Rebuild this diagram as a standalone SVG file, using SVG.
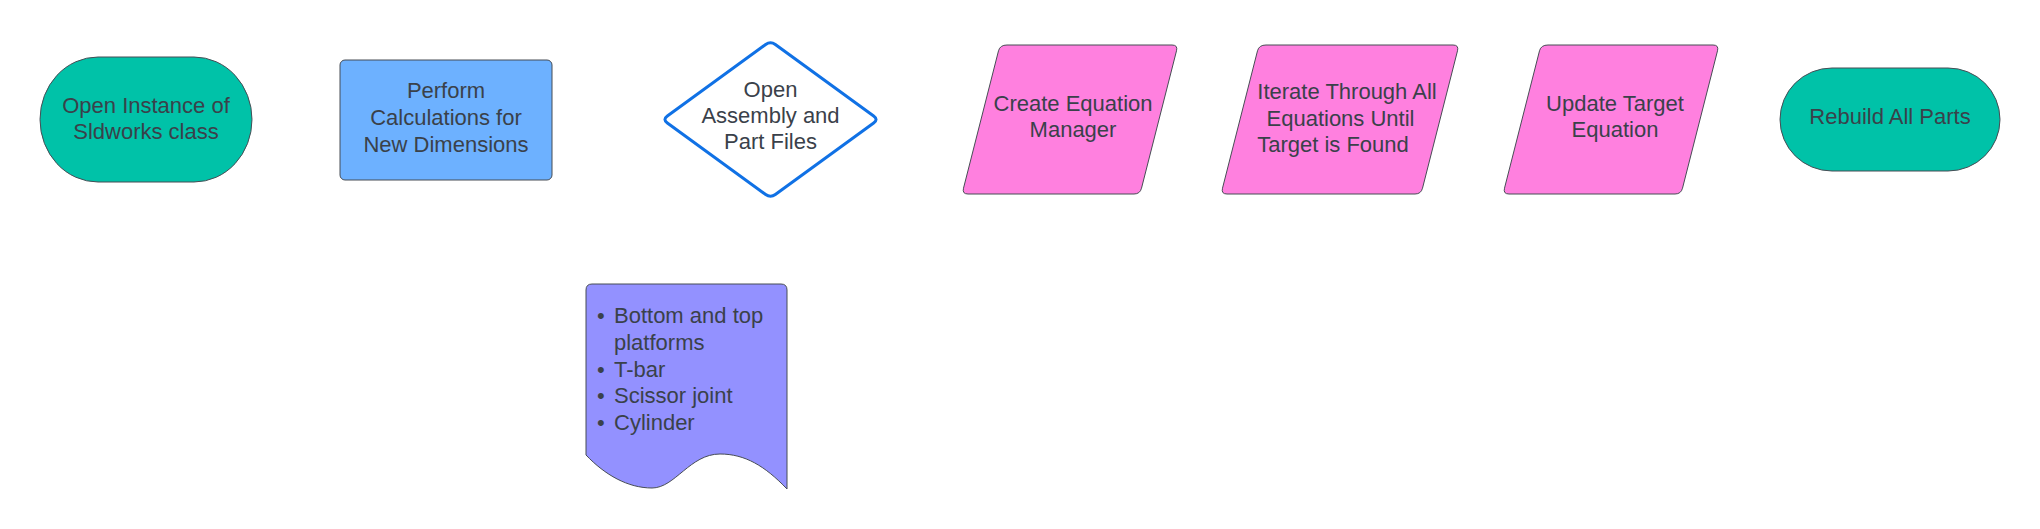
<svg xmlns="http://www.w3.org/2000/svg" width="2040" height="529" viewBox="0 0 2040 529">
<style>
.t{font-family:"Liberation Sans",Arial,sans-serif;font-size:22px;fill:#3a414a;text-anchor:middle}
.tl{font-family:"Liberation Sans",Arial,sans-serif;font-size:22px;fill:#3a414a}
.term{fill:#00c2a8;stroke:#474d55;stroke-width:1}
.proc{fill:#6db1ff;stroke:#474d55;stroke-width:1}
.io{fill:#ff80df;stroke:#474d55;stroke-width:1}
.doc{fill:#9391ff;stroke:#474d55;stroke-width:1}
.dec{fill:#ffffff;stroke:#1071e5;stroke-width:3;stroke-linejoin:round}
</style>
<rect width="2040" height="529" fill="#ffffff"/>
<g id="connectors"></g>
<g id="start">
<rect class="term" x="40" y="57" width="212" height="125" rx="58" ry="62.5"/>
<text class="t" x="146" y="112.5">Open Instance of</text>
<text class="t" x="146" y="139">Sldworks class</text>
</g>
<g id="calc">
<rect class="proc" x="340" y="60" width="212" height="120" rx="5"/>
<text class="t" x="446" y="98">Perform</text>
<text class="t" x="446" y="125">Calculations for</text>
<text class="t" x="446" y="152">New Dimensions</text>
</g>
<g id="open-files">
<path class="dec" d="M765.65,44.53 Q770.5,41 775.35,44.53 L873.65,115.97 Q878.5,119.5 873.65,123.03 L775.35,194.47 Q770.5,198 765.65,194.47 L667.35,123.03 Q662.5,119.5 667.35,115.97 Z"/>
<text class="t" x="770.5" y="96.5">Open</text>
<text class="t" x="770.5" y="123">Assembly and</text>
<text class="t" x="770.5" y="149">Part Files</text>
</g>
<g id="create-eq">
<path class="io" d="M1007,45 L1172,45 Q1178,45 1176.5,50.8 L1141.5,188.2 Q1140,194 1134,194 L968,194 Q962,194 963.5,188.2 L998.5,50.8 Q1000,45 1007,45 Z"/>
<text class="t" x="1073" y="110.5">Create Equation</text>
<text class="t" x="1073" y="137">Manager</text>
</g>
<g id="iterate">
<path class="io" d="M1266,45 L1453,45 Q1459,45 1457.5,50.8 L1422.5,188.2 Q1421,194 1415,194 L1227,194 Q1221,194 1222.5,188.2 L1257.5,50.8 Q1259,45 1266,45 Z"/>
<text class="t" x="1347" y="99">Iterate Through All</text>
<text class="t" x="1340.5" y="125.5">Equations Until</text>
<text class="t" x="1333" y="152">Target is Found</text>
</g>
<g id="update">
<path class="io" d="M1548,45 L1713,45 Q1719,45 1717.5,50.8 L1682.5,188.2 Q1681,194 1675,194 L1509,194 Q1503,194 1504.5,188.2 L1539.5,50.8 Q1541,45 1548,45 Z"/>
<text class="t" x="1615" y="110.5">Update Target</text>
<text class="t" x="1615" y="137">Equation</text>
</g>
<g id="rebuild">
<rect class="term" x="1780" y="68" width="220" height="103" rx="52" ry="51.5"/>
<text class="t" x="1890" y="123.5">Rebuild All Parts</text>
</g>
<g id="parts-doc">
<path class="doc" d="M586,455 L586,290 Q586,284 592,284 L781,284 Q787,284 787,290 L787,489 C765,466 745,454 720,454 C690,454 675,488 652,488 C628,488 605,475 586,455 Z"/>
<text class="tl" x="597" y="323">•</text>
<text class="tl" x="614" y="323">Bottom and top</text>
<text class="tl" x="614" y="350">platforms</text>
<text class="tl" x="597" y="376.5">•</text>
<text class="tl" x="614" y="376.5">T-bar</text>
<text class="tl" x="597" y="403">•</text>
<text class="tl" x="614" y="403">Scissor joint</text>
<text class="tl" x="597" y="430">•</text>
<text class="tl" x="614" y="430">Cylinder</text>
</g>
</svg>
